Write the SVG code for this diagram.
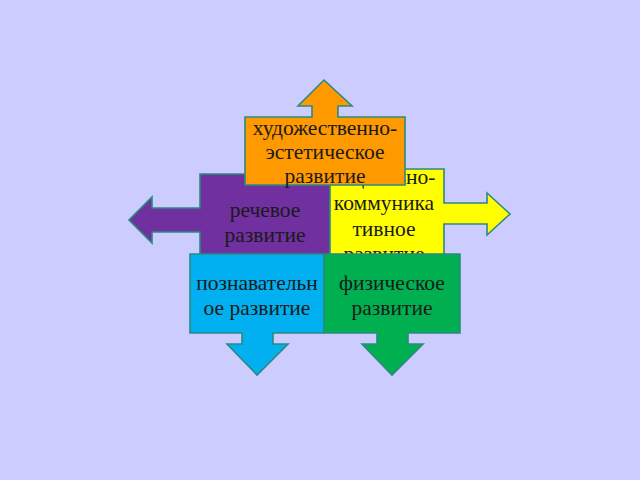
<svg xmlns="http://www.w3.org/2000/svg" width="640" height="480" viewBox="0 0 640 480">
<style>
.s{stroke:#2a8a80;stroke-width:1.6;stroke-linejoin:miter}
.t{font-family:"Liberation Serif","Times New Roman",serif;font-size:21.5px;fill:#1a1a1a;text-anchor:middle}
</style>
<rect width="640" height="480" fill="#ccccff"/>
<g id="connectors"></g>
<g id="speech">
<path class="s" fill="#7030a0" d="M200,174 H330 V258 H200 V232 H152 V243 L129,220 L152,197 V208 H200 Z"/>
<text class="t" x="265" y="217">речевое</text>
<text class="t" x="265" y="242">развитие</text>
</g>
<g id="social">
<path class="s" fill="#ffff00" d="M330,169 H444 V203 H487 V193 L510,214 L487,235 V224 H444 V258 H330 Z"/>
<text class="t" x="384" y="184">социально-</text>
<text class="t" x="384" y="210">коммуника</text>
<text class="t" x="384" y="236">тивное</text>
<text class="t" x="384" y="261">развитие</text>
</g>
<g id="art">
<path class="s" fill="#ff9900" d="M245,117 H312 V106 H298 L324,80 L352,106 H338 V117 H405 V185 H245 Z"/>
<text class="t" x="325" y="135">художественно-</text>
<text class="t" x="325" y="159">эстетическое</text>
<text class="t" x="325" y="183">развитие</text>
</g>
<g id="cognitive">
<path class="s" fill="#00b0f0" d="M190,254 H324 V333 H273 V344 H288 L257,375 L227,344 H242 V333 H190 Z"/>
<text class="t" x="257" y="290">познавательн</text>
<text class="t" x="257" y="315">ое развитие</text>
</g>
<g id="physical">
<path class="s" fill="#00b050" d="M324,254 H460 V333 H408 V344 H423 L392,375 L362,344 H377 V333 H324 Z"/>
<text class="t" x="392" y="290">физическое</text>
<text class="t" x="392" y="315">развитие</text>
</g>
</svg>
